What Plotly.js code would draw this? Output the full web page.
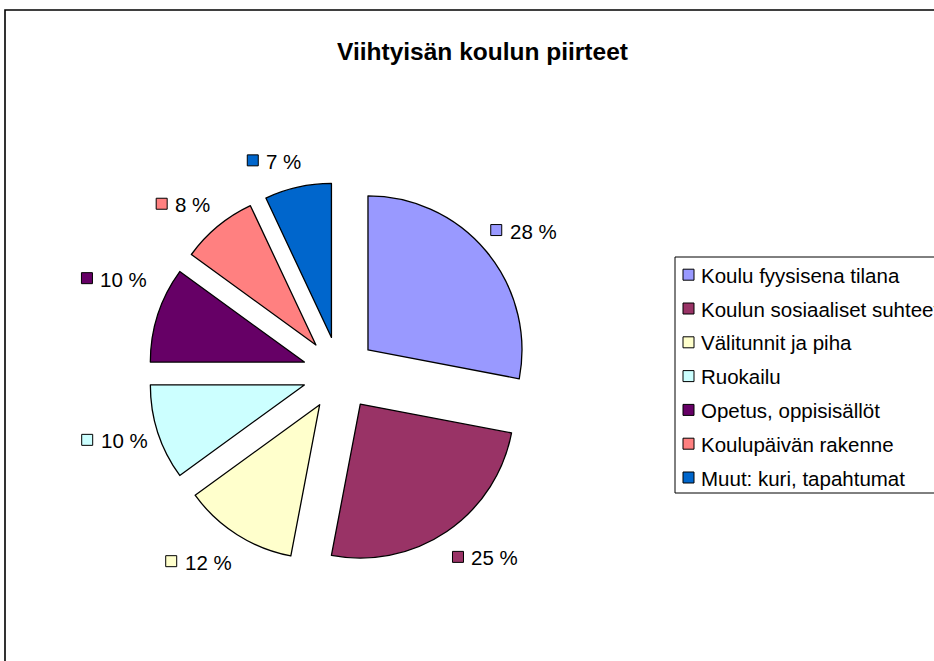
<!DOCTYPE html>
<html>
<head>
<meta charset="utf-8">
<script src="https://cdn.plot.ly/plotly-3.0.1.min.js"></script>
<style>
html,body{margin:0;padding:0;background:#fff;}
#chart{width:934px;height:661px;}
</style>
</head>
<body>
<div id="chart"></div>
<script>
// ---- data ----
const categories = ["Koulu fyysisena tilana", "Koulun sosiaaliset suhteet", "Välitunnit ja piha", "Ruokailu", "Opetus, oppisisällöt", "Koulupäivän rakenne", "Muut: kuri, tapahtumat"];
const shares = [28, 25, 12, 10, 10, 8, 7];
const sliceLabels = ["28 %", "25 %", "12 %", "10 %", "10 %", "8 %", "7 %"];
const colors = ["#9999FF", "#993366", "#FFFFCC", "#CCFFFF", "#660066", "#FF8080", "#0066CC"];
const titleText = "Viihtyisän koulun piirteet";

// ---- layout geometry (label placement tweaks, not data) ----
const labelAngleShift = [1.6, -4.2, 4.6, 1.6, 4.9, -3.1, -4.5];   // degrees
const labelRadius = [233, 234, 235, 235, 245, 231, 223];           // px from pie centre

const W = 934, H = 661;
const cx = 339.5, cy = 373.5, R = 154, PULL = 0.24;
const ext = R * (1 + PULL);
const fx = x => x / W, fy = y => 1 - y / H;
const FONT = '"Liberation Sans", Arial, sans-serif';
const FS = 20.5;

const measure = (() => {
  const c = document.createElement('canvas').getContext('2d');
  c.font = FS + 'px "Liberation Sans", Arial';
  return t => c.measureText(t).width;
})();

const trace = {
  type: 'pie',
  values: shares,
  labels: categories,
  sort: false,
  direction: 'clockwise',
  rotation: 0,
  marker: { colors: colors, line: { color: '#000', width: 1.3 } },
  pull: shares.map(() => PULL),
  textinfo: 'none',
  hoverinfo: 'label+percent',
  showlegend: false,
  domain: { x: [fx(cx - ext), fx(cx + ext)], y: [fy(cy + ext), fy(cy - ext)] }
};

const shapes = [];
const annotations = [];

// outer chart border
shapes.push({ type: 'rect', xref: 'paper', yref: 'paper', x0: fx(5), x1: fx(950), y0: fy(10), y1: fy(680), line: { color: '#000', width: 1.6 }, fillcolor: 'rgba(0,0,0,0)' });

// slice data labels with keys
const total = shares.reduce((a, b) => a + b, 0);
let cum = 0;
shares.forEach((v, i) => {
  const mid = (cum + v / 2) / total * 2 * Math.PI + labelAngleShift[i] * Math.PI / 180;
  cum += v;
  const LR = labelRadius[i];
  const gx = cx + LR * Math.sin(mid), gy = cy - LR * Math.cos(mid);
  const tw = measure(sliceLabels[i]);
  const gw = 11 + 7 + tw;
  const x0 = gx - gw / 2;
  shapes.push({ type: 'rect', xref: 'paper', yref: 'paper', x0: fx(x0), x1: fx(x0 + 11), y0: fy(gy + 5.5), y1: fy(gy - 5.5), fillcolor: colors[i], line: { color: '#000', width: 1 } });
  annotations.push({ xref: 'paper', yref: 'paper', x: fx(x0 + 17), y: fy(gy + 1), xanchor: 'left', yanchor: 'middle', text: sliceLabels[i], showarrow: false, font: { family: FONT, size: FS, color: '#000' } });
});

// legend
shapes.push({ type: 'rect', xref: 'paper', yref: 'paper', x0: fx(675), x1: fx(960), y0: fy(493), y1: fy(257), fillcolor: '#fff', line: { color: '#000', width: 1 }, layer: 'below' });
categories.forEach((c, i) => {
  const yy = 274.7 + 33.8 * i;
  shapes.push({ type: 'rect', xref: 'paper', yref: 'paper', x0: fx(683), x1: fx(694), y0: fy(yy + 5.5), y1: fy(yy - 5.5), fillcolor: colors[i], line: { color: '#000', width: 1 } });
  annotations.push({ xref: 'paper', yref: 'paper', x: fx(699), y: fy(yy + 0.5), xanchor: 'left', yanchor: 'middle', text: c, showarrow: false, font: { family: FONT, size: FS, color: '#000' } });
});

const layout = {
  width: W, height: H,
  margin: { l: 0, r: 0, t: 0, b: 0, autoexpand: false },
  paper_bgcolor: '#fff',
  showlegend: false,
  title: { text: titleText, x: fx(482.5), xanchor: 'center', y: fy(51), yanchor: 'middle', font: { family: FONT, size: 24.5, color: '#000', weight: 'bold' } },
  shapes: shapes,
  annotations: annotations
};

Plotly.newPlot('chart', [trace], layout, { displayModeBar: false, staticPlot: true });
</script>
</body>
</html>
